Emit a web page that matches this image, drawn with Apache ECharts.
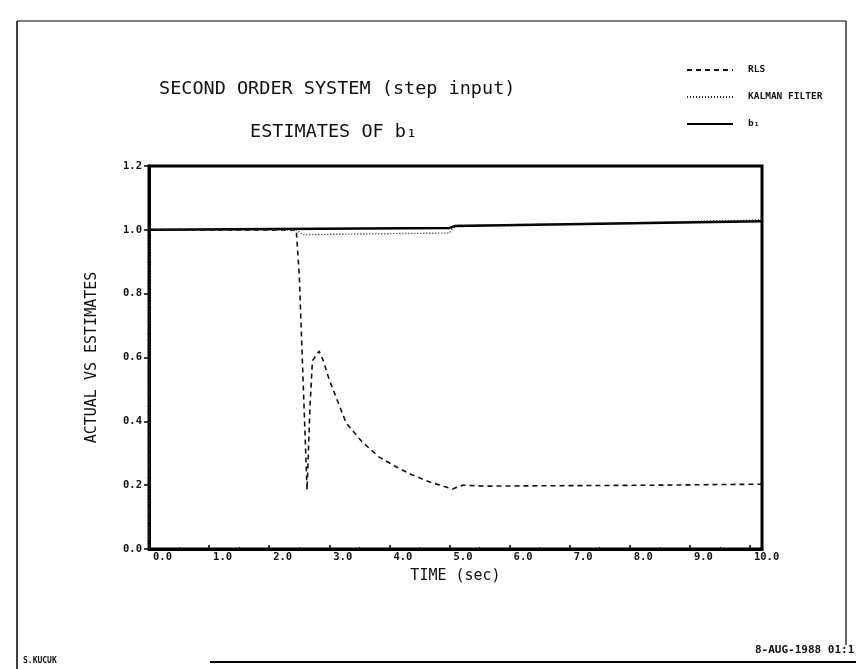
<!DOCTYPE html>
<html>
<head>
<meta charset="utf-8">
<script src="https://cdn.jsdelivr.net/npm/echarts@6/dist/echarts.min.js"></script>
<style>
html,body{margin:0;padding:0;background:#fff;}
#chart{width:856px;height:669px;}
</style>
</head>
<body>
<div id="chart"></div>
<script>
// ---- data ----
const titleLine1 = 'SECOND ORDER SYSTEM (step input)';
const titleLine2 = 'ESTIMATES OF b\u2081';
const seriesNames = ['RLS', 'KALMAN FILTER', 'b\u2081'];
const xTickLabels = ['0.0','1.0','2.0','3.0','4.0','5.0','6.0','7.0','8.0','9.0','10.0'];
const yTickLabels = ['0.0','0.2','0.4','0.6','0.8','1.0','1.2'];

const rlsTime  = [0, 0.02, 2.45, 2.5, 2.56, 2.63, 2.68, 2.72, 2.83, 2.9, 3.0, 3.28, 3.55, 3.83, 4.12, 4.38, 4.67, 5.05, 5.22, 5.6, 6.5, 7.5, 8.5, 9.5, 10.2];
const rlsValue = [0, 1.0, 1.0, 0.86, 0.55, 0.185, 0.45, 0.59, 0.62, 0.59, 0.53, 0.395, 0.335, 0.288, 0.257, 0.232, 0.21, 0.188, 0.2, 0.197, 0.198, 0.199, 0.2, 0.202, 0.203];

const kalTime  = [0, 0.02, 2.45, 2.55, 5.0, 5.08, 7.5, 10.2];
const kalValue = [0, 1.0, 1.0, 0.985, 0.99, 1.014, 1.02, 1.031];

const b1Time   = [0, 5.0, 5.1, 7.5, 10.2];
const b1Value  = [1.0, 1.006, 1.012, 1.019, 1.027];

const footerLeft = 'S.KUCUK';
const footerRight = '8-AUG-1988 01:1';

// ---- build ----
const zip = (a, b) => a.map((v, i) => [v, b[i]]);
const MONO = '"DejaVu Sans Mono", "Liberation Mono", monospace';

const chart = echarts.init(document.getElementById('chart'), null, {renderer: 'canvas'});
chart.setOption({
  backgroundColor: '#ffffff',
  animation: false,
  title: [
    {text: titleLine1, left: 154, top: 75,
     textStyle: {fontFamily: MONO, fontSize: 18.5, fontWeight: 'normal', color: '#111'}},
    {text: titleLine2, left: 245, top: 118,
     textStyle: {fontFamily: MONO, fontSize: 18.5, fontWeight: 'normal', color: '#111'}}
  ],
  legend: {
    orient: 'vertical', left: 681, top: 60,
    itemWidth: 46, itemHeight: 10, itemGap: 17,
    data: seriesNames,
    itemStyle: {opacity: 0},
    textStyle: {fontFamily: MONO, fontSize: 9.5, fontWeight: 'bold', color: '#111', padding: [0,0,0,10]}
  },
  grid: {left: 149, right: 94, top: 166, bottom: 120, show: true,
         borderColor: '#000', borderWidth: 3, backgroundColor: 'transparent'},
  xAxis: {
    type: 'value', min: 0, max: 10.2, interval: 1,
    name: 'TIME (sec)', nameLocation: 'middle', nameGap: 20,
    nameTextStyle: {fontFamily: MONO, fontSize: 15, color: '#111'},
    axisLine: {show: true, onZero: false, lineStyle: {color: '#000', width: 3}},
    axisTick: {show: true, inside: true, length: 4, lineStyle: {color: '#000', width: 1.5}},
    minorTick: {show: true, splitNumber: 2, length: 2, lineStyle: {color: '#000'}},
    splitLine: {show: false},
    axisLabel: {
      fontFamily: MONO, fontSize: 10.5, fontWeight: 'bold', color: '#111',
      align: 'left', margin: 3, padding: [0,0,0,4],
      formatter: v => { const i = Math.round(v); return Math.abs(v - i) < 1e-6 && i < xTickLabels.length ? xTickLabels[i] : ''; }
    }
  },
  yAxis: {
    type: 'value', min: 0, max: 1.2, interval: 0.2,
    name: 'ACTUAL VS ESTIMATES', nameLocation: 'middle', nameGap: 49, nameRotate: 90,
    nameTextStyle: {fontFamily: MONO, fontSize: 15, color: '#111'},
    axisLine: {show: true, lineStyle: {color: '#000', width: 3}},
    axisTick: {show: true, inside: false, length: 5, lineStyle: {color: '#000', width: 1.5}},
    splitLine: {show: false},
    axisLabel: {
      fontFamily: MONO, fontSize: 10.5, fontWeight: 'bold', color: '#111', margin: 7,
      formatter: v => { const i = Math.round(v / 0.2); return yTickLabels[i] || ''; }
    }
  },
  series: [
    {name: seriesNames[0], type: 'line', data: zip(rlsTime, rlsValue), symbol: 'none', z: 3,
     lineStyle: {color: '#111', width: 1.6, type: [5, 4]}, itemStyle: {color: '#111'}},
    {name: seriesNames[1], type: 'line', data: zip(kalTime, kalValue), symbol: 'none', z: 4,
     lineStyle: {color: '#222', width: 1.4, type: [1, 2]}, itemStyle: {color: '#222'}},
    {name: seriesNames[2], type: 'line', data: zip(b1Time, b1Value), symbol: 'none', z: 2,
     lineStyle: {color: '#000', width: 2.5, type: 'solid'}, itemStyle: {color: '#000'}}
  ],
  graphic: [
    {type: 'line', shape: {x1: 17, y1: 21, x2: 17, y2: 669}, style: {stroke: '#000', lineWidth: 1.5}},
    {type: 'line', shape: {x1: 17, y1: 21, x2: 846, y2: 21}, style: {stroke: '#000', lineWidth: 1.2}},
    {type: 'line', shape: {x1: 846, y1: 21, x2: 846, y2: 645}, style: {stroke: '#000', lineWidth: 1.2}},
    {type: 'line', shape: {x1: 210, y1: 662, x2: 856, y2: 662}, style: {stroke: '#000', lineWidth: 2}},
    {type: 'text', left: 23, top: 657,
     style: {text: footerLeft, font: 'bold 8px "DejaVu Sans Mono", monospace', fill: '#111'}},
    {type: 'text', left: 755, top: 645,
     style: {text: footerRight, font: 'bold 11px "DejaVu Sans Mono", monospace', fill: '#111'}}
  ]
});
</script>
</body>
</html>
